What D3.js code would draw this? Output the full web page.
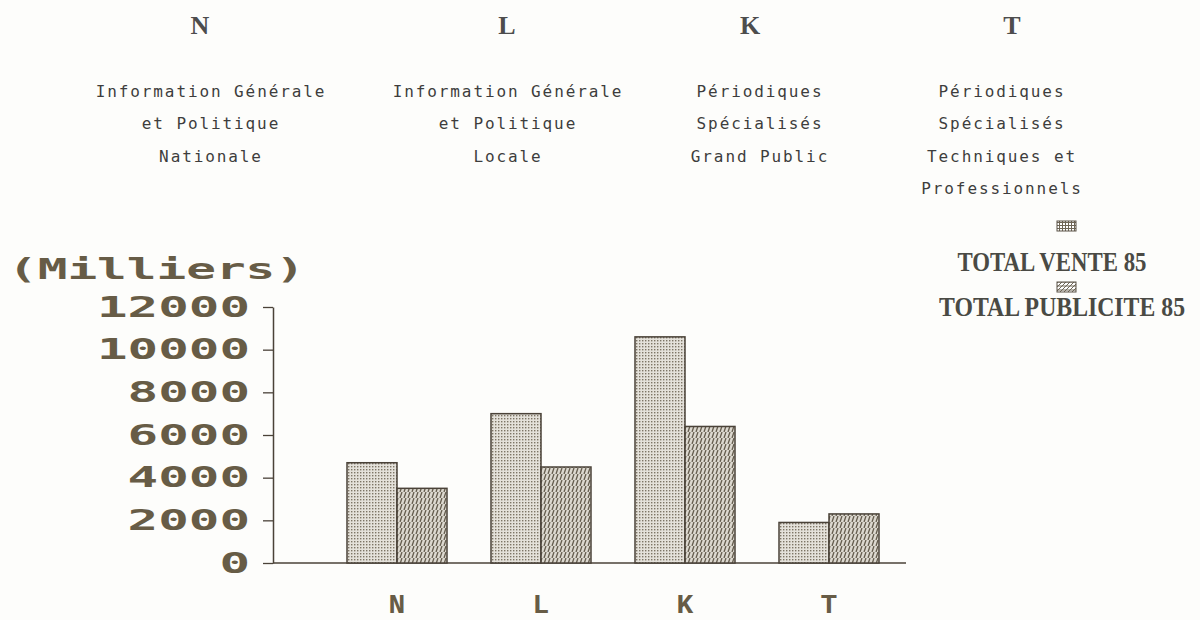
<!DOCTYPE html>
<meta charset="utf-8">
<head>
    <title>Total vente / publicite 85</title>
    <style>
        body { margin: 0; background: #fdfdfb; }
        svg { display: block; }
    </style>
</head>
<body>
    <script src="https://cdn.jsdelivr.net/npm/d3@7"></script>
    <script>
        // data
        var categories = ["N", "L", "K", "T"];
        var vente = [4700, 7000, 10600, 1900];
        var publicite = [3500, 4500, 6400, 2300];
        var seriesNames = ["TOTAL VENTE 85", "TOTAL PUBLICITE 85"];
        var yTicks = [0, 2000, 4000, 6000, 8000, 10000, 12000];
        var headerLabels = ["N", "L", "K", "T"];
        var descriptions = [
            ["Information Générale", "et Politique", "Nationale"],
            ["Information Générale", "et Politique", "Locale"],
            ["Périodiques", "Spécialisés", "Grand Public"],
            ["Périodiques", "Spécialisés", "Techniques et", "Professionnels"]
        ];

        var width = 1200, height = 620;
        var ink = "#675c46";

        var svg = d3.select("body").append("svg")
            .attr("width", width)
            .attr("height", height);

        // fill patterns, one per series
        var defs = svg.append("defs");
        var p1 = defs.append("pattern")
            .attr("id", "dots")
            .attr("patternUnits", "userSpaceOnUse")
            .attr("width", 3).attr("height", 3);
        p1.append("rect").attr("width", 3).attr("height", 3).attr("fill", "#e4e1da");
        p1.append("rect").attr("x", 1).attr("y", 1).attr("width", 1.4).attr("height", 1.4).attr("fill", "#7d7566");

        var p2 = defs.append("pattern")
            .attr("id", "hatch")
            .attr("patternUnits", "userSpaceOnUse")
            .attr("width", 4).attr("height", 6);
        p2.append("rect").attr("width", 4).attr("height", 6).attr("fill", "#dcd8cf");
        p2.append("path").attr("d", "M1,6 L3,0").attr("stroke", "#635b4c").attr("stroke-width", 1.3);

        var sw1 = defs.append("pattern")
            .attr("id", "legDots")
            .attr("patternUnits", "userSpaceOnUse")
            .attr("width", 3).attr("height", 3);
        sw1.append("rect").attr("width", 3).attr("height", 3).attr("fill", "#fff");
        sw1.append("rect").attr("width", 3).attr("height", 1).attr("fill", "#6e6656");
        sw1.append("rect").attr("width", 1).attr("height", 3).attr("fill", "#6e6656");

        var sw2 = defs.append("pattern")
            .attr("id", "legHatch")
            .attr("patternUnits", "userSpaceOnUse")
            .attr("width", 4).attr("height", 4);
        sw2.append("rect").attr("width", 4).attr("height", 4).attr("fill", "#fff");
        sw2.append("path").attr("d", "M0,4 L4,0 M0,2 L4,2").attr("stroke", "#6e6656").attr("stroke-width", 1);

        // scales
        var y = d3.scaleLinear().domain([0, 12000]).range([563, 307]);
        var x = d3.scaleBand().domain(categories).range([325, 901])
            .paddingInner(0.3056).paddingOuter(0.1528);
        var xSub = d3.scaleBand().domain([0, 1]).range([0, x.bandwidth()]);

        // header: category letters and descriptions
        var headerX = [200, 507, 750, 1012];
        var descX = [211, 508, 760, 1002];
        svg.selectAll(".head")
            .data(headerLabels)
            .enter().append("text")
            .attr("x", function (d, i) { return headerX[i]; })
            .attr("y", 34)
            .attr("text-anchor", "middle")
            .style("font-family", "'Liberation Serif', serif")
            .style("font-weight", "bold")
            .style("font-size", "26px")
            .style("fill", "#4d4d4d")
            .text(function (d) { return d; });

        descriptions.forEach(function (lines, i) {
            svg.selectAll(".desc" + i)
                .data(lines)
                .enter().append("text")
                .attr("x", descX[i])
                .attr("y", function (d, j) { return 97 + j * 32.3; })
                .attr("text-anchor", "middle")
                .style("font-family", "'DejaVu Sans Mono', monospace")
                .style("font-size", "16px")
                .style("letter-spacing", "1.9px")
                .style("fill", "#3d3d3d")
                .text(function (d) { return d; });
        });

        // y axis
        var yAxis = svg.append("g")
            .attr("transform", "translate(273,0)")
            .call(d3.axisLeft(y).tickValues(yTicks).tickFormat(d3.format("d"))
                .tickSize(10).tickSizeOuter(0).tickPadding(13));
        yAxis.select(".domain").attr("stroke", "#4a4238").attr("stroke-width", 1.5);
        yAxis.selectAll(".tick line").attr("stroke", "#4a4238").attr("stroke-width", 1.3);
        yAxis.selectAll(".tick text")
            .style("font-family", "'DejaVu Sans Mono', monospace")
            .style("font-weight", "bold")
            .style("font-size", "29px")
            .style("fill", ink)
            .attr("textLength", function (d) { return String(d).length * 30.6; })
            .attr("lengthAdjust", "spacingAndGlyphs");

        // baseline
        svg.append("line")
            .attr("x1", 273).attr("x2", 906)
            .attr("y1", y(0)).attr("y2", y(0))
            .attr("stroke", "#4a4238").attr("stroke-width", 1.5);

        // unit label
        svg.append("text")
            .attr("x", 8)
            .attr("y", 279)
            .attr("textLength", 297)
            .attr("lengthAdjust", "spacingAndGlyphs")
            .style("font-family", "'DejaVu Sans Mono', monospace")
            .style("font-weight", "bold")
            .style("font-size", "29px")
            .style("fill", ink)
            .text("(Milliers)");

        // bars
        var rows = categories.map(function (c, i) {
            return { cat: c, values: [vente[i], publicite[i]] };
        });
        var groups = svg.selectAll(".grp")
            .data(rows)
            .enter().append("g")
            .attr("transform", function (d) { return "translate(" + x(d.cat) + ",0)"; });

        groups.selectAll("rect")
            .data(function (d) { return d.values; })
            .enter().append("rect")
            .attr("x", function (d, i) { return xSub(i); })
            .attr("y", function (d) { return y(d); })
            .attr("width", xSub.bandwidth())
            .attr("height", function (d) { return y(0) - y(d); })
            .attr("fill", function (d, i) { return i === 0 ? "url(#dots)" : "url(#hatch)"; })
            .attr("stroke", "#4a4238")
            .attr("stroke-width", 1.5);

        // category labels under the bars
        svg.selectAll(".xlab")
            .data(categories)
            .enter().append("text")
            .attr("x", function (d) { return x(d) + x.bandwidth() / 2; })
            .attr("y", 613)
            .attr("text-anchor", "middle")
            .style("font-family", "'Liberation Mono', monospace")
            .style("font-weight", "bold")
            .style("font-size", "28px")
            .style("fill", ink)
            .text(function (d) { return d; });

        // legend (condensed look: narrow font stretched vertically)
        var legY = [226, 287];
        var legTextY = [271, 316];
        var legTextX = [1052, 1062];
        var legW = [189, 246];
        seriesNames.forEach(function (name, i) {
            svg.append("rect")
                .attr("x", 1057).attr("y", legY[i] - 5)
                .attr("width", 19).attr("height", 10)
                .attr("fill", i === 0 ? "url(#legDots)" : "url(#legHatch)")
                .attr("stroke", "#5a5246").attr("stroke-width", 1);
            svg.append("text")
                .attr("transform", "translate(" + legTextX[i] + "," + legTextY[i] + ") scale(1,1.35)")
                .attr("text-anchor", "middle")
                .attr("textLength", legW[i])
                .attr("lengthAdjust", "spacingAndGlyphs")
                .style("font-family", "'Liberation Serif', serif")
                .style("font-weight", "bold")
                .style("font-size", "20px")
                .style("fill", "#4a4a44")
                .text(name);
        });
    </script>
</body>
</html>
